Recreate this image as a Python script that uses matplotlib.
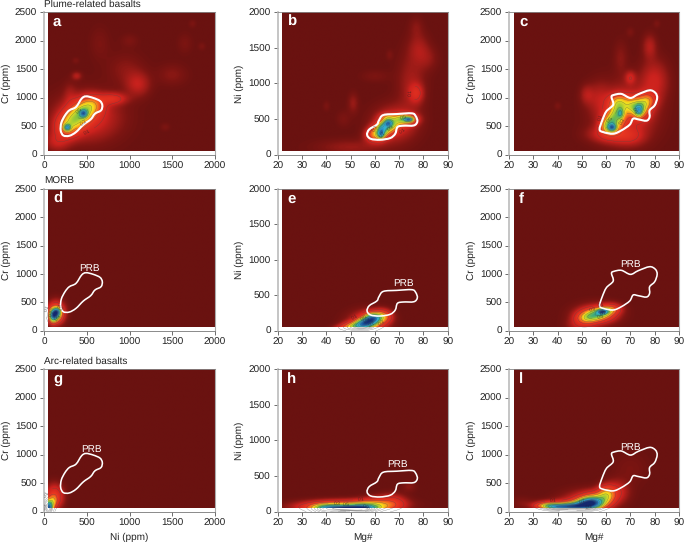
import matplotlib
matplotlib.use('Agg')
import matplotlib.pyplot as plt
import numpy as np
from matplotlib.colors import LinearSegmentedColormap
from matplotlib.path import Path
from matplotlib.patches import PathPatch

plt.rcParams['font.family'] = ['Liberation Sans', 'DejaVu Sans']
plt.rcParams['font.size'] = 7
plt.rcParams['text.hinting'] = 'no_hinting'
plt.rcParams['text.hinting_factor'] = 1

prb_ni_cr_x = [491, 577, 655, 682, 667, 596, 546, 460, 374, 296, 226, 195, 203, 246, 296, 374, 440]
prb_ni_cr_y = [1023, 994, 941, 865, 776, 718, 618, 524, 394, 329, 335, 424, 559, 688, 776, 835, 982]
prb_mg_ni_x = [63.5, 69, 75.2, 76.8, 77.5, 76.1, 71.7, 69.3, 68.4, 66.3, 62.1, 58.3, 56.8, 57.7, 60.8, 61.7]
prb_mg_ni_y = [555, 569, 579, 541, 466, 409, 405, 386, 292, 231, 207, 221, 278, 353, 419, 480]
prb_mg_cr_x = [63.2, 66.3, 70, 73.2, 77.9, 80.3, 81, 80, 77.9, 77.9, 76.6, 73.2, 71.1, 69.7, 66.3, 62.9, 58.8, 57.3, 58.4, 60.1, 62.9, 62.2]
prb_mg_cr_y = [1047, 1065, 994, 1059, 1129, 1082, 994, 865, 776, 659, 594, 618, 629, 524, 424, 365, 394, 441, 600, 759, 876, 1012]

# density clusters per panel: centre x, centre y, spread x, spread y, height
clusters_a = [(270, 480, 95, 130, .18), (340, 600, 95, 130, .18), (420, 700, 95, 130, .18), (500, 800, 95, 130, .18),
              (570, 880, 90, 110, .14), (270, 470, 28, 40, .42), (460, 720, 30, 45, .42), (800, 980, 110, 70, .12),
              (1100, 1230, 100, 150, .07), (500, 650, 260, 280, .11), (150, 220, 100, 120, .07), (1500, 1400, 120, 130, .03),
              (380, 1380, 40, 50, .06), (1650, 1950, 60, 120, .02), (1000, 2000, 70, 80, .02), (650, 1950, 80, 200, .02),
              (1740, 2300, 30, 50, .02), (1850, 1900, 30, 50, .02), (1420, 480, 40, 50, .02), (950, 1500, 150, 200, .03),
              (370, 1650, 30, 40, .02), (300, 1050, 50, 150, .03)]
clusters_b = [(60, 270, 2.6, 70, .2), (62.5, 320, 2.6, 70, .2), (65, 400, 2.6, 70, .2), (67, 430, 2.6, 70, .2),
              (62.5, 280, 1, 45, .35), (65.5, 440, 1.2, 35, .35), (63, 370, 1.5, 60, .25),
              (71, 500, 2.5, 50, .25), (74, 490, 2.5, 50, .25), (74, 490, 1.2, 20, .4), (65, 530, 2, 35, .15),
              (68, 430, 6, 170, .1), (77, 860, 2, 90, .1), (75, 1000, 4, 300, .05), (78, 1500, 3, 150, .045),
              (82, 1350, 3, 120, .03), (51, 720, 1.5, 100, .04), (47, 500, 2, 80, .02), (40, 680, 1, 50, .02),
              (66, 1400, 1, 50, .02), (50, 100, 10, 80, .04), (60, 1100, 4, 60, .02), (77, 1800, 2, 100, .025)]
clusters_c = [(61, 500, 2.2, 90, .3), (63, 600, 2.5, 120, .25), (65, 750, 2.4, 130, .25), (65, 930, 2.6, 90, .18),
              (72, 820, 2.6, 100, .25), (75, 800, 2.3, 110, .2), (77, 950, 2.4, 90, .2), (70, 900, 3, 100, .1),
              (62.5, 470, 1.1, 40, .4), (66, 720, .9, 60, .2), (73.5, 760, 1.1, 70, .3),
              (68, 720, 8, 330, .12), (62, 350, 6, 100, .1), (80, 1300, 4, 250, .08), (70, 1350, 1.5, 80, .08),
              (78, 1900, 2, 150, .06), (52, 1050, 2, 120, .05), (40, 850, 1, 50, .02), (70, 2150, 1.2, 60, .02),
              (81, 2300, 1, 50, .02), (66, 1700, 2, 200, .03), (57, 1000, 3, 200, .04), (70, 300, 4, 100, .05)]
clusters_d = [(130, 290, 45, 80, .55), (150, 330, 30, 45, .3), (100, 230, 30, 70, .3), (115, 280, 20, 40, .1), (140, 320, 70, 130, .2)]
clusters_e = [(59, 170, 2.2, 50, .55), (56, 110, 2.5, 45, .5), (59, 130, 3.5, 80, .15), (53, 70, 3.5, 40, .35),
              (63, 200, 2.5, 60, .25), (50, 40, 4, 30, .15), (57, 120, 5.5, 110, .1)]
clusters_f = [(58.5, 330, 1.5, 30, .45), (56, 280, 4, 70, .4), (60, 350, 3, 50, .2), (52, 210, 3, 60, .2),
              (62, 400, 3, 60, .12), (50, 100, 4, 70, .08), (56, 280, 6, 130, .11)]
clusters_g = [(50, 60, 35, 90, .85), (120, 260, 70, 140, .18), (110, 180, 30, 70, .15)]
clusters_h = [(50, 45, 5, 22, .6), (40, 25, 4, 50, .4), (55, 30, 4, 60, .35), (47, 60, 10, 45, .42), (60, 90, 4, 70, .15),
              (67, 120, 4, 80, .14), (50, 110, 13, 50, .1), (74, 350, 2, 50, .03)]
clusters_i = [(53, 140, 3.5, 65, .68), (47, 90, 4, 45, .6), (40, 80, 4, 38, .5), (55, 190, 3.5, 90, .3),
              (60, 290, 2.5, 100, .28), (36, 110, 3.5, 40, .25), (64, 350, 3.5, 130, .1), (52, 180, 7, 130, .1),
              (25, 150, 3, 80, .02), (70, 750, 5, 200, .02), (44, 130, 8, 60, .1)]

panel_letters = ['a', 'b', 'c', 'd', 'e', 'f', 'g', 'h', 'l']
row_titles = ['Plume-related basalts', 'MORB', 'Arc-related basalts']
contour_levels = [.1, .2, .3, .4, .5, .6, .7, .8, .9]
prb_label_x = [None, None, None, 526, 71.6, 70.2, 550, 69.5, 70.2]
prb_label_y = [None, None, None, 1106, 673, 1177, 1100, 670, 1136]

heat = LinearSegmentedColormap.from_list('heat', [
    (0, '#6a1210'), (.02, '#7d1512'), (.04, '#9a1b17'), (.08, '#cc221e'), (.2, '#ee3a22'), (.3, '#f7941d'), (.38, '#f5e31c'),
    (.5, '#7fc241'), (.6, '#2fa58e'), (.7, '#35b5d5'), (.82, '#1f6fb5'), (1, '#14286e')])

W, H = 685, 542
col_px = [(44, 215, 48), (277.7, 447.7, 282), (509, 679, 514)]
row_px = [(12.3, 154.5, 151), (189, 330.7, 327), (369.3, 511.7, 508)]
mg_ticks = [20, 30, 40, 50, 60, 70, 80, 90]
ni_ticks = [0, 500, 1000, 1500, 2000]
cr_ticks = [0, 500, 1000, 1500, 2000, 2500]


def outline(xs, ys):
    # closed smooth curve through the read points
    p = np.column_stack([xs, ys]).astype(float)
    n = len(p)
    verts = [p[0]]
    codes = [Path.MOVETO]
    for i in range(n):
        p0, p1, p2, p3 = p[i - 1], p[i], p[(i + 1) % n], p[(i + 2) % n]
        verts += [p1 + (p2 - p0) / 6, p2 - (p3 - p1) / 6, p2]
        codes += [Path.CURVE4] * 3
    return Path(verts, codes)


def density(clusters, X, Y):
    Z = np.zeros_like(X)
    for cx, cy, sx, sy, w in clusters:
        Z += w * np.exp(-.5 * (((X - cx) / sx) ** 2 + ((Y - cy) / sy) ** 2))
    return np.clip(Z, 0, 1)


fig = plt.figure(figsize=(W / 100, H / 100), dpi=100)

panels = [
    (clusters_a, (0, 2000), (0, 2500), ni_ticks, cr_ticks, prb_ni_cr_x, prb_ni_cr_y, 'Cr (ppm)', ''),
    (clusters_b, (20, 90), (0, 2000), mg_ticks, ni_ticks, prb_mg_ni_x, prb_mg_ni_y, 'Ni (ppm)', ''),
    (clusters_c, (20, 90), (0, 2500), mg_ticks, cr_ticks, prb_mg_cr_x, prb_mg_cr_y, 'Cr (ppm)', ''),
    (clusters_d, (0, 2000), (0, 2500), ni_ticks, cr_ticks, prb_ni_cr_x, prb_ni_cr_y, 'Cr (ppm)', ''),
    (clusters_e, (20, 90), (0, 2000), mg_ticks, ni_ticks, prb_mg_ni_x, prb_mg_ni_y, 'Ni (ppm)', ''),
    (clusters_f, (20, 90), (0, 2500), mg_ticks, cr_ticks, prb_mg_cr_x, prb_mg_cr_y, 'Cr (ppm)', ''),
    (clusters_g, (0, 2000), (0, 2500), ni_ticks, cr_ticks, prb_ni_cr_x, prb_ni_cr_y, 'Cr (ppm)', 'Ni (ppm)'),
    (clusters_h, (20, 90), (0, 2000), mg_ticks, ni_ticks, prb_mg_ni_x, prb_mg_ni_y, 'Ni (ppm)', 'Mg#'),
    (clusters_i, (20, 90), (0, 2500), mg_ticks, cr_ticks, prb_mg_cr_x, prb_mg_cr_y, 'Cr (ppm)', 'Mg#'),
]

for k, (clusters, xlim, ylim, xticks, yticks, px, py, ylabel, xlabel) in enumerate(panels):
    row, col = k // 3, k % 3
    x0, x1, hx = col_px[col]
    y0, y1, hy = row_px[row]
    ax = fig.add_axes([x0 / W, 1 - y1 / H, (x1 - x0) / W, (y1 - y0) / H])
    ax.set_xlim(xlim)
    ax.set_ylim(ylim)

    # the coloured map starts a little inside the axes
    left = xlim[0] + (hx - x0) / (x1 - x0) * (xlim[1] - xlim[0])
    bottom = (y1 - hy) / (y1 - y0) * ylim[1]
    gx = np.linspace(left, xlim[1], 300)
    gy = np.linspace(bottom, ylim[1], 300)
    GX, GY = np.meshgrid(gx, gy)
    ax.imshow(density(clusters, GX, GY), origin='lower', extent=[left, xlim[1], bottom, ylim[1]],
              cmap=heat, vmin=0, vmax=1, aspect='auto', interpolation='bilinear', zorder=1)

    # contours run past the map edge, as in the source
    fx = np.linspace(xlim[0], xlim[1], 300)
    fy = np.linspace(0, ylim[1], 300)
    FX, FY = np.meshgrid(fx, fy)
    cs = ax.contour(FX, FY, density(clusters, FX, FY), levels=contour_levels, colors='#4a4a4a',
                    linewidths=.25, alpha=.7, zorder=2)
    ax.clabel(cs, levels=contour_levels[::2], fontsize=3.5, fmt='%.1f', colors='#222222', inline=True)
    for t in list(cs.labelTexts):
        if t.get_position()[1] < bottom:
            t.remove()

    ax.add_patch(PathPatch(outline(px, py), fill=False, edgecolor='white',
                           linewidth=1.5 if row == 0 else 1.15, zorder=3))

    ax.text((hx - x0 + 5) / (x1 - x0), 1 - 14 / (y1 - y0), panel_letters[k], transform=ax.transAxes,
            color='white', fontweight='bold', fontsize=10.5, va='baseline', ha='left', zorder=4)

    if prb_label_x[k] is not None:
        ax.text(prb_label_x[k], prb_label_y[k], 'PRB', color='white', fontsize=7.4,
                ha='center', va='center', zorder=4)

    ax.set_xticks(xticks)
    ax.set_yticks(yticks)
    ax.tick_params(length=2.6, width=.6, pad=2.4, color='#555555', labelcolor='#222222', labelsize=7)
    ax.spines['top'].set_color('#888888')
    ax.spines['top'].set_linewidth(.6)
    ax.spines['right'].set_color('#aaaaaa')
    ax.spines['right'].set_linewidth(.8)
    ax.spines['left'].set_color('#bbbbbb')
    ax.spines['left'].set_linewidth(1.2)
    ax.spines['bottom'].set_color('#777777')
    ax.spines['bottom'].set_linewidth(.6)

    ax.set_ylabel(ylabel, fontsize=7, labelpad=3, color='#222222')
    if xlabel:
        ax.set_xlabel(xlabel, fontsize=7, labelpad=3.5, color='#222222')
    if col == 0:
        ax.text(0, 1 + 3.5 / (y1 - y0), row_titles[row], transform=ax.transAxes, fontsize=7,
                color='#222222', ha='left', va='bottom')

fig.savefig('out.png', dpi=100)
